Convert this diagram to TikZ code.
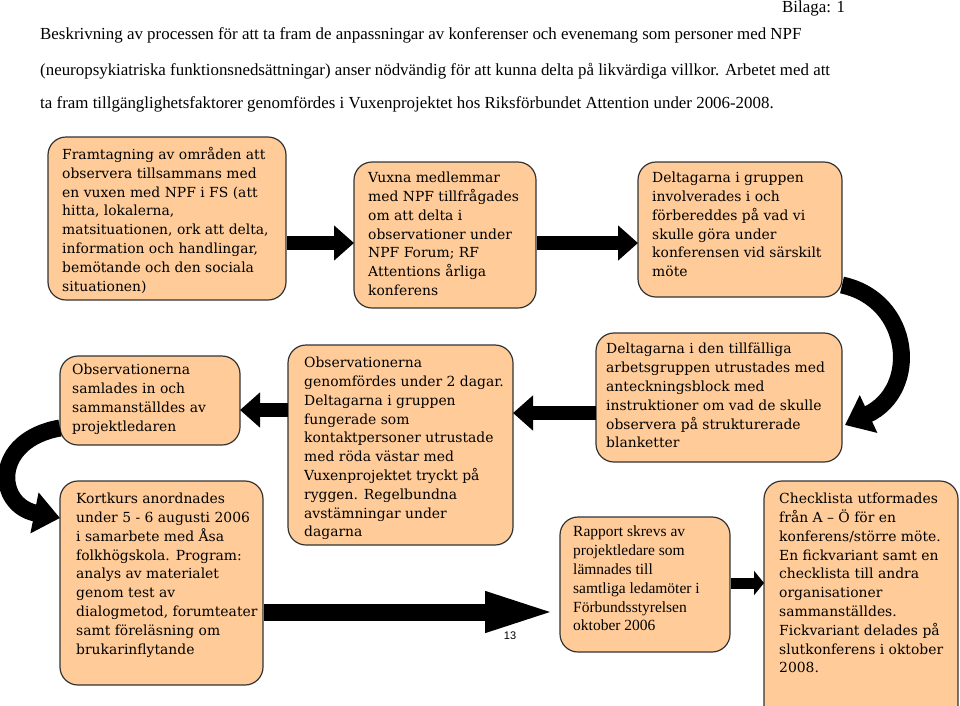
\documentclass[tikz,border=0pt]{standalone}
\usepackage{fontspec}
\setmainfont{Liberation Serif}
\newfontfamily\boxfont{DejaVu Serif}
\newfontfamily\numfont{Liberation Sans}
\usetikzlibrary{arrows.meta}
\begin{document}
\begin{tikzpicture}[x=1pt,y=-1pt,
  bx/.style={draw=black!80,line width=1.2pt,fill=orange!40!white,rounded corners=18pt},
  txt/.style={anchor=north west,align=left,inner sep=0pt,font=\boxfont\fontsize{13.9}{18.8}\selectfont},
  hdr/.style={anchor=base west,inner sep=0pt,font=\fontsize{16.9}{18}\selectfont},
  fat/.style={line width=14pt,-{Triangle[length=20pt,width=34pt]}},
  fatc/.style={line width=17pt,-{Triangle[length=26pt,width=40pt]}}]
\useasboundingbox (0,0) rectangle (960,705);
\node[hdr] (bil) at (782,12) {Bilaga: 1};
\node[hdr] (h1) at (40,39) {Beskrivning av processen för att ta fram de anpassningar av konferenser och evenemang som personer med NPF};
\node[hdr] (h2) at (40,75) {(neuropsykiatriska funktionsnedsättningar) anser nödvändig för att kunna delta på likvärdiga villkor. Arbetet med att};
\node[hdr] (h3) at (40,108) {ta fram tillgänglighetsfaktorer genomfördes i Vuxenprojektet hos Riksförbundet Attention under 2006-2008.};

\draw[bx] (48,137) rectangle (286,300);
\node[txt] (t1) at (62,147) {Framtagning av områden att\\observera tillsammans med\\en vuxen med NPF i FS (att\\hitta, lokalerna,\\matsituationen, ork att delta,\\information och handlingar,\\bemötande och den sociala\\situationen)};
\draw[bx] (354,162) rectangle (536,308);
\node[txt] (t2) at (368,172) {Vuxna medlemmar\\med NPF tillfrågades\\om att delta i\\observationer under\\NPF Forum; RF\\Attentions årliga\\konferens};
\draw[bx] (638,162) rectangle (842,297);
\node[txt] (t3) at (652,172) {Deltagarna i gruppen\\involverades i och\\förbereddes på vad vi\\skulle göra under\\konferensen vid särskilt\\möte};
\draw[bx] (596,333) rectangle (842,462);
\node[txt] (t4) at (606,343) {Deltagarna i den tillfälliga\\arbetsgruppen utrustades med\\anteckningsblock med\\instruktioner om vad de skulle\\observera på strukturerade\\blanketter};
\draw[bx] (288,345) rectangle (513,545);
\node[txt] (t5) at (304,357) {Observationerna\\genomfördes under 2 dagar.\\Deltagarna i gruppen\\fungerade som\\kontaktpersoner utrustade\\med röda västar med\\Vuxenprojektet tryckt på\\ryggen. Regelbundna\\avstämningar under\\dagarna};
\draw[bx] (60,356) rectangle (240,445);
\node[txt] (t6) at (72,364) {Observationerna\\samlades in och\\sammanställdes av\\projektledaren};
\draw[bx] (60,481) rectangle (263,685);
\node[txt] (t7) at (76,493) {Kortkurs anordnades\\under 5 - 6 augusti 2006\\i samarbete med Åsa\\folkhögskola. Program:\\analys av materialet\\genom test av\\dialogmetod, forumteater\\samt föreläsning om\\brukarinflytande};
\draw[bx] (560,517) rectangle (730,652);
\node[anchor=north west,align=left,inner sep=0pt,font=\rmfamily\fontsize{15.5}{18.8}\selectfont] (t8) at (573,526) {Rapport skrevs av\\projektledare som\\lämnades till\\samtliga ledamöter i\\Förbundsstyrelsen\\oktober 2006};
\draw[bx] (764,481) rectangle (958,725);
\node[txt] (t9) at (779,493) {Checklista utformades\\från A – Ö för en\\konferens/större möte.\\En fickvariant samt en\\checklista till andra\\organisationer\\sammanställdes.\\Fickvariant delades på\\slutkonferens i oktober\\2008.};

\coordinate (a1s) at (287,243); \coordinate (a1e) at (354,243);
\coordinate (a2s) at (537,243); \coordinate (a2e) at (638,243);
\coordinate (a4s) at (596,413); \coordinate (a4e) at (513,413);
\coordinate (a5s) at (288,410); \coordinate (a5e) at (240,410);
\coordinate (a8s) at (731,583); \coordinate (a8e) at (764,583);
\coordinate (a7s) at (264,612); \coordinate (a7e) at (558,612);
\draw[fat] (a1s) -- (a1e);
\draw[fat] (a2s) -- (a2e);
\draw[fat] (a4s) -- (a4e);
\draw[fat] (a5s) -- (a5e);
\draw[line width=11pt,-{Triangle[length=10pt,width=24pt]}] (a8s) -- (a8e);
\draw[line width=17pt,-{Triangle[length=73pt,width=36pt]}] (a7s) -- (a7e);
\coordinate (c1s) at (842,285); \coordinate (c1e) at (845,425);
\draw[fatc] (c1s) .. controls (912,300) and (920,390) .. (c1e);
\coordinate (c2s) at (60,428); \coordinate (c2e) at (60,518);
\draw[fatc] (c2s) .. controls (-8,440) and (-5,505) .. (c2e);
\node[font=\numfont\fontsize{11}{12}\selectfont] (n13) at (510,636) {13};
\end{tikzpicture}
\end{document}
